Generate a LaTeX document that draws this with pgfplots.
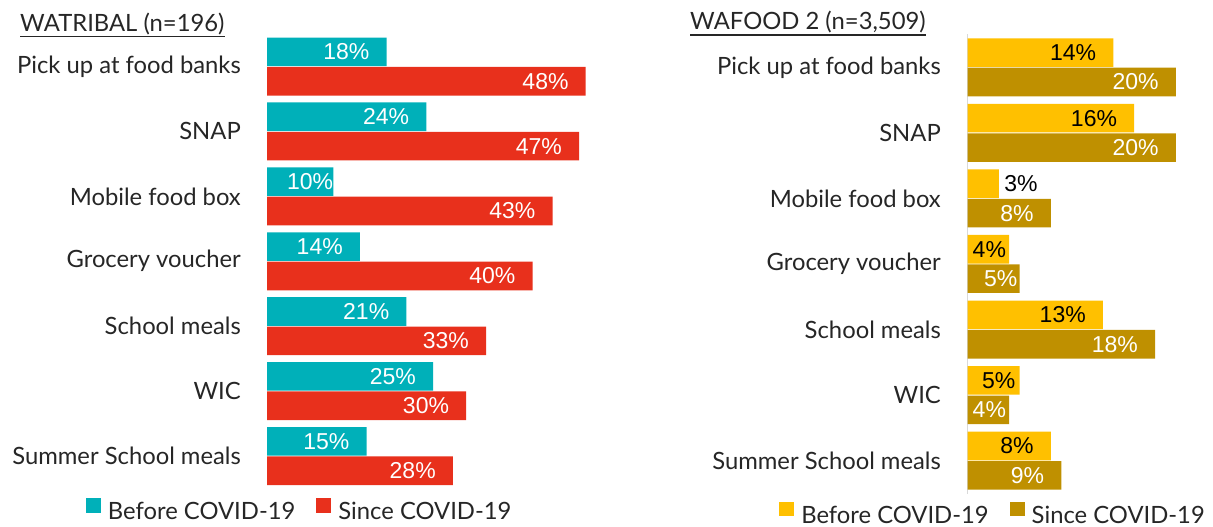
\documentclass[border=0pt]{standalone}
\usepackage{pgfplots}
\pgfplotsset{compat=1.18}
\usepackage{pgfplotstable}
\usepackage{fontspec}
\setmainfont{Lato}
\newfontfamily\arialf{Liberation Sans}
\definecolor{tealc}{HTML}{00B0B9}
\definecolor{redc}{HTML}{E8301C}
\definecolor{yellowc}{HTML}{FFC000}
\definecolor{goldc}{HTML}{BF9000}
\definecolor{txt}{HTML}{262626}
\newcommand{\labelfont}{\fontsize{23.8bp}{28bp}\selectfont}
\newcommand{\numfont}{\arialf\fontsize{23bp}{27bp}\selectfont}

\pgfplotstableread{
y before bdx since sdx
6 18 -17 48 -17
5 24 -17 47 -17
4 10 0 43 -17
3 14 -17 40 -17
2 21 -17 33 -17
1 25 -17 30 -17
0 15 -17 28 -17
}\leftdata

\pgfplotstableread{
y before bdx since sdx
6 14 -17 20 -17
5 16 -17 20 -17
4 3 39 8 -17
3 4 -3 5 -2
2 13 -17 18 -17
1 5 -4 4 -3
0 8 -17 9 -17
}\rightdata

\pgfplotsset{
  common/.style={
    scale only axis, anchor=south west, clip=false,
    ymin=-0.5, ymax=6.5, xmin=0,
    axis x line=none, axis y line*=left,
    ytick={0,...,6},
    yticklabels={Summer School meals,WIC,School meals,Grocery voucher,Mobile food box,SNAP,Pick up at food banks},
    major tick length=0pt,
    xbar, bar width=28.6bp,
    point meta=x,
    nodes near coords={\pgfmathprintnumber[assume math mode=true]{\pgfplotspointmeta}\%},
    every node near coord/.append style={anchor=east, inner sep=0pt, font=\numfont},
    legend columns=2,
    legend cell align=left,
    legend image code/.code={\fill[##1] (0bp,-0.5bp) rectangle (15bp,14bp);},
    legend style={draw=none, fill=none, inner sep=0pt, outer sep=0pt,
      font=\labelfont, text=txt, anchor=south west,
      nodes={inner sep=0pt},
      /tikz/every odd column/.append style={column sep=7bp},
      /tikz/every even column/.append style={column sep=21bp}},
  }
}

\begin{document}
\begin{tikzpicture}
\path[use as bounding box] (0,0) rectangle (1213bp,527bp);

\node[inner sep=0pt, anchor=base west, font=\labelfont, text=txt] (t1) at (20bp,495.3bp) {WATRIBAL (n=196)};
\draw[txt, line width=1.5bp] ([yshift=-5bp]t1.base west) -- ([yshift=-5bp]t1.base east);
\node[inner sep=0pt, anchor=base west, font=\labelfont, text=txt] (t2) at (690bp,497bp) {WAFOOD 2 (n=3,509)};
\draw[txt, line width=1.5bp] ([yshift=-5bp]t2.base west) -- ([yshift=-5bp]t2.base east);

\begin{axis}[common,
  at={(267bp,38.54bp)}, width=332bp, height=454.4bp, xmax=50,
  y axis line style={draw=none},
  yticklabel style={font=\labelfont, text=txt, inner sep=0pt, xshift=-26bp},
  legend style={at={(-0.5452,-0.0727)}},
]
\addplot[fill=tealc, draw=none, bar shift=14.7bp,
  visualization depends on={\thisrow{bdx} \as \dx},
  every node near coord/.append style={text=white, xshift={\dx bp}}]
  table[x=before, y=y] {\leftdata};
\addlegendentry{Before COVID-19}
\addplot[fill=redc, draw=none, bar shift=-14.7bp,
  visualization depends on={\thisrow{sdx} \as \dx},
  every node near coord/.append style={text=white, xshift={\dx bp}}]
  table[x=since, y=y] {\leftdata};
\addlegendentry{Since COVID-19}
\end{axis}

\begin{axis}[common,
  at={(967.5bp,33.5bp)}, width=229.2bp, height=459bp, xmax=22,
  y axis line style={draw=black!15, line width=1.5bp},
  yticklabel style={font=\labelfont, text=txt, inner sep=0pt, xshift=-26.5bp},
  legend style={at={(-0.8211,-0.0686)}},
]
\addplot[fill=yellowc, draw=none, bar shift=14.7bp,
  visualization depends on={\thisrow{bdx} \as \dx},
  every node near coord/.append style={text=black, xshift={\dx bp}}]
  table[x=before, y=y] {\rightdata};
\addlegendentry{Before COVID-19}
\addplot[fill=goldc, draw=none, bar shift=-14.7bp,
  visualization depends on={\thisrow{sdx} \as \dx},
  every node near coord/.append style={text=white, xshift={\dx bp}}]
  table[x=since, y=y] {\rightdata};
\addlegendentry{Since COVID-19}
\end{axis}
\end{tikzpicture}
\end{document}
